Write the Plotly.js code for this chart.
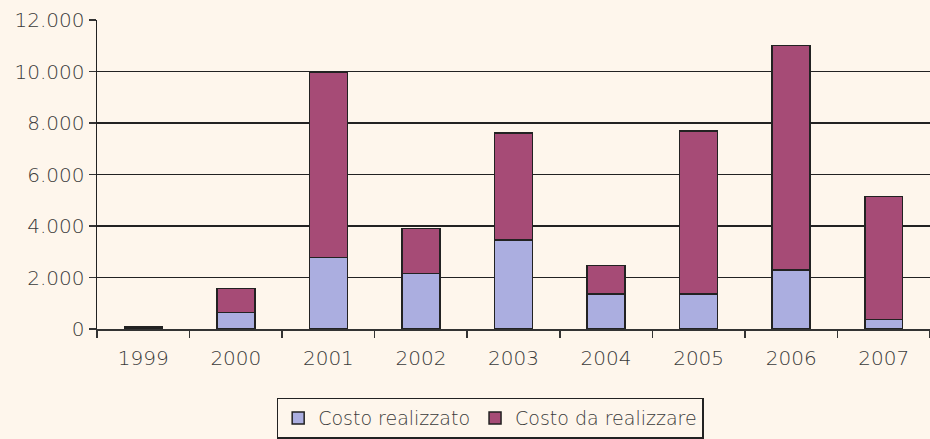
<!DOCTYPE html>
<html><head><meta charset="utf-8">
<script src="https://cdn.plot.ly/plotly-3.0.1.min.js"></script>
<style>body{margin:0;background:#FEF6EC}</style>
</head><body><div id="c" style="width:930px;height:439px"></div>
<script>
const years = ["1999","2000","2001","2002","2003","2004","2005","2006","2007"];
const realizzato = [40, 640, 2780, 2160, 3450, 1360, 1350, 2290, 360];
const daRealizzare = [40, 940, 7180, 1740, 4170, 1110, 6330, 8720, 4790];
const seriesNames = ["Costo realizzato", "Costo da realizzare"];
const yTicks = [0, 2000, 4000, 6000, 8000, 10000, 12000];

const font = {family: "'DejaVu Sans', sans-serif", size: 20, color: "#3a3a3a", weight: 200};
const legendFont = {family: "'DejaVu Sans', sans-serif", size: 19, color: "#3a3a3a", weight: 200};
const line = {color: "#222", width: 1.5};
const traces = [
  {type: "bar", x: years, y: realizzato, name: seriesNames[0], marker: {color: "#ABAEE0", line: line}},
  {type: "bar", x: years, y: daRealizzare, name: seriesNames[1], marker: {color: "#A64B76", line: line}}
];
const layout = {
  width: 930, height: 439,
  paper_bgcolor: "#FEF6EC", plot_bgcolor: "#FEF6EC",
  barmode: "stack", bargap: 0.59,
  separators: ",.",
  margin: {l: 97, r: 0, t: 20, b: 108},
  font: font,
  xaxis: {
    type: "category", showline: true, linecolor: "#333", linewidth: 1.5,
    ticks: "outside", tickson: "boundaries", ticklen: 7, tickcolor: "#333", tickwidth: 1.5,
    showgrid: false, tickfont: font, ticklabelstandoff: 10
  },
  yaxis: {
    range: [0, 12000], tickvals: yTicks, tickformat: ",d",
    showline: true, linecolor: "#222", linewidth: 1.5,
    ticks: "outside", ticklen: 7, tickcolor: "#333", tickwidth: 1.5,
    showgrid: true, gridcolor: "#222", gridwidth: 1.5, zeroline: false,
    tickfont: font
  },
  legend: {
    orientation: "h", x: 0.472, xanchor: "center", y: -0.222, yanchor: "top",
    bordercolor: "#222", borderwidth: 1.5, bgcolor: "#FEF6EC",
    font: legendFont, traceorder: "normal", itemwidth: 30
  },
  showlegend: true
};
Plotly.newPlot("c", traces, layout, {displayModeBar: false, staticPlot: true});
</script></body></html>
